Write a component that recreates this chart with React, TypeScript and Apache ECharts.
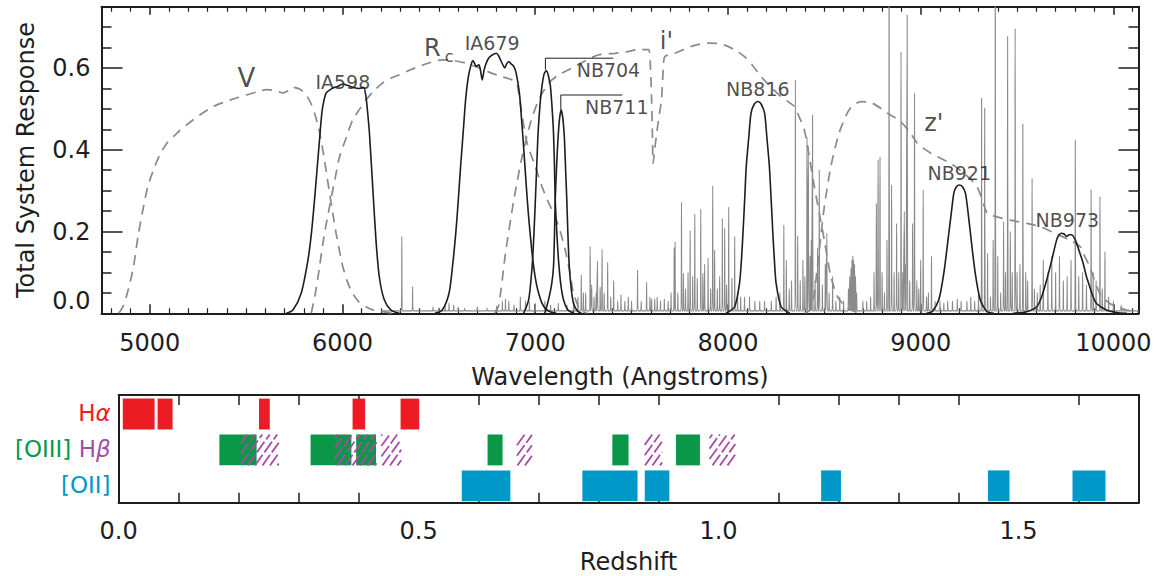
import React, { useEffect, useRef } from 'react';
import * as echarts from 'echarts';

// ---------- Top panel: filter response curves (wavelength Å, response) ----------
const V_CURVE = [[4840,0],[4865,0.02],[4890,0.06],[4916,0.114],[4940,0.19],[4968,0.261],[4990,0.31],[5020,0.351],[5050,0.385],[5089,0.416],[5140,0.44],[5192,0.461],[5260,0.485],[5330,0.506],[5420,0.522],[5502,0.534],[5560,0.542],[5606,0.547],[5650,0.545],[5692,0.539],[5720,0.545],[5743,0.553],[5780,0.548],[5812,0.534],[5835,0.515],[5855,0.49],[5878,0.45],[5898,0.4],[5915,0.35],[5933,0.294],[5950,0.245],[5967,0.196],[5985,0.152],[6002,0.114],[6025,0.078],[6053,0.049],[6085,0.028],[6122,0.016],[6160,0.008],[6208,0.004],[6260,0]];
const RC_CURVE = [[5838,0],[5860,0.05],[5881,0.114],[5905,0.19],[5933,0.261],[5960,0.325],[5985,0.383],[6020,0.43],[6053,0.473],[6090,0.5],[6122,0.522],[6165,0.545],[6208,0.563],[6250,0.575],[6295,0.583],[6350,0.595],[6398,0.604],[6460,0.614],[6518,0.62],[6580,0.618],[6639,0.612],[6700,0.602],[6760,0.59],[6820,0.58],[6880,0.571],[6906,0.56],[6930,0.49],[6958,0.416],[7000,0.36],[7035,0.31],[7070,0.27],[7104,0.236],[7130,0.2],[7156,0.155],[7180,0.1],[7199,0.049],[7234,0.008],[7270,0]];
const I_CURVE = [[6790,0],[6811,0.02],[6846,0.147],[6889,0.277],[6932,0.383],[6975,0.465],[7018,0.522],[7070,0.563],[7121,0.583],[7190,0.6],[7260,0.618],[7328,0.632],[7414,0.636],[7480,0.64],[7535,0.645],[7587,0.645],[7598,0.6],[7604,0.522],[7608,0.44],[7612,0.367],[7620,0.4],[7630,0.44],[7642,0.48],[7655,0.522],[7665,0.6],[7673,0.628],[7725,0.636],[7810,0.653],[7897,0.661],[7950,0.66],[8000,0.653],[8040,0.643],[8086,0.628],[8130,0.605],[8172,0.579],[8220,0.555],[8276,0.53],[8345,0.506],[8361,0.49],[8396,0.449],[8422,0.383],[8448,0.31],[8474,0.245],[8500,0.179],[8534,0.09],[8568,0.041],[8611,0.016],[8660,0.004],[8700,0]];
const Z_CURVE = [[8400,0],[8430,0.01],[8448,0.049],[8474,0.155],[8500,0.261],[8534,0.359],[8577,0.441],[8629,0.498],[8689,0.518],[8749,0.514],[8827,0.49],[8896,0.469],[8947,0.441],[8982,0.416],[9051,0.392],[9154,0.367],[9223,0.343],[9292,0.31],[9344,0.245],[9361,0.241],[9395,0.236],[9464,0.228],[9550,0.22],[9619,0.212],[9700,0.195],[9780,0.178],[9827,0.163],[9843,0.147],[9877,0.114],[9929,0.049],[9981,0.024],[10067,0.008],[10130,0.004]];
const IA598 = [[5709,0],[5743,0.008],[5786,0.049],[5821,0.13],[5840,0.2],[5855,0.277],[5868,0.35],[5881,0.424],[5890,0.475],[5898,0.506],[5916,0.539],[5950,0.551],[5975,0.555],[6002,0.561],[6030,0.557],[6053,0.553],[6088,0.55],[6110,0.553],[6122,0.53],[6131,0.49],[6140,0.441],[6157,0.31],[6174,0.179],[6191,0.09],[6217,0.033],[6252,0.008],[6295,0]];
const IA679 = [[6480,0],[6518,0.008],[6553,0.049],[6570,0.11],[6588,0.196],[6600,0.27],[6613,0.359],[6626,0.44],[6639,0.522],[6652,0.575],[6665,0.604],[6677,0.618],[6685,0.612],[6694,0.604],[6708,0.608],[6716,0.595],[6725,0.571],[6735,0.595],[6746,0.612],[6760,0.625],[6777,0.632],[6800,0.636],[6810,0.63],[6820,0.62],[6832,0.608],[6842,0.6],[6852,0.61],[6863,0.616],[6875,0.61],[6889,0.604],[6901,0.588],[6918,0.539],[6930,0.47],[6941,0.4],[6954,0.31],[6966,0.236],[6980,0.165],[6992,0.114],[7005,0.075],[7018,0.049],[7035,0.025],[7053,0.012],[7080,0.003],[7110,0]];
const NB704 = [[6940,0],[6966,0.033],[6984,0.114],[6993,0.19],[7001,0.277],[7008,0.36],[7015,0.441],[7025,0.51],[7035,0.555],[7046,0.585],[7058,0.594],[7069,0.58],[7079,0.555],[7088,0.5],[7095,0.441],[7100,0.36],[7104,0.277],[7112,0.2],[7121,0.13],[7133,0.07],[7147,0.033],[7170,0.008],[7200,0]];
const NB711 = [[7050,0],[7069,0.033],[7085,0.07],[7095,0.114],[7100,0.19],[7104,0.277],[7111,0.36],[7118,0.424],[7126,0.475],[7135,0.498],[7144,0.475],[7152,0.424],[7158,0.35],[7164,0.277],[7170,0.19],[7177,0.114],[7187,0.06],[7199,0.024],[7220,0.005],[7240,0]];
const NB816 = [[7990,0],[8035,0.016],[8060,0.073],[8070,0.13],[8078,0.196],[8087,0.28],[8095,0.359],[8108,0.43],[8120,0.49],[8137,0.512],[8155,0.518],[8172,0.512],[8190,0.49],[8202,0.43],[8215,0.359],[8224,0.28],[8233,0.196],[8241,0.13],[8250,0.073],[8276,0.016],[8320,0]];
const NB921 = [[9030,0],[9059,0.004],[9094,0.033],[9120,0.098],[9146,0.196],[9160,0.25],[9172,0.294],[9186,0.31],[9201,0.314],[9216,0.31],[9232,0.294],[9245,0.25],[9258,0.196],[9283,0.098],[9309,0.033],[9344,0.004],[9380,0]];
const NB973 = [[9480,0],[9550,0.004],[9602,0.016],[9628,0.041],[9654,0.082],[9680,0.13],[9705,0.179],[9718,0.192],[9731,0.196],[9744,0.194],[9757,0.188],[9770,0.192],[9783,0.192],[9796,0.185],[9809,0.171],[9826,0.147],[9843,0.122],[9860,0.09],[9877,0.065],[9895,0.04],[9912,0.024],[9964,0.008],[10015,0.002],[10070,0]];

// Sky emission lines (wavelength Å, peak response)
const SKY_BASE = 0.006;
const SKY_LINE_WAVE = [6308,6364,6470,6500,6533,6553,6577,6600,6634,6700,6750,6800,6830,6846,6863,6890,6923,6950,6970,7000,7050,7080,7120,7165,7200,7222,7239,7250,7262,7285,7293,7305,7316,7323,7337,7347,7358,7376,7392,7407,7428,7445,7465,7483,7500,7531,7550,7578,7595,7604,7620,7633,7650,7670,7690,7705,7721,7726,7740,7759,7769,7780,7793,7804,7817,7828,7841,7859,7870,7879,7897,7910,7921,7931,7945,7957,7971,7983,7993,8004,8021,8035,8050,8066,8086,8112,8140,8165,8190,8225,8250,8270,8290,8303,8318,8330,8350,8362,8375,8389,8399,8410,8417,8426,8432,8439,8452,8465,8474,8490,8505,8513,8525,8543,8560,8580,8600,8625,8632,8638,8643,8648,8652,8657,8662,8668,8700,8720,8740,8758,8770,8779,8789,8800,8812,8825,8836,8849,8862,8875,8886,8898,8907,8915,8922,8930,8943,8958,8968,8980,8990,9000,9013,9030,9040,9056,9075,9100,9120,9140,9165,9190,9210,9240,9260,9280,9300,9316,9332,9347,9362,9376,9387,9400,9415,9430,9440,9451,9465,9475,9490,9500,9515,9530,9545,9555,9578,9590,9605,9620,9636,9660,9680,9700,9720,9740,9760,9780,9802,9820,9840,9860,9884,9895,9910,9930,9942,9956,9975,10000,10040];
const SKY_LINE_PEAK = [0.188,0.065,0.015,0.012,0.018,0.025,0.02,0.015,0.012,0.015,0.012,0.018,0.03,0.035,0.03,0.02,0.04,0.03,0.028,0.025,0.03,0.02,0.025,0.02,0.03,0.04,0.094,0.05,0.05,0.163,0.07,0.04,0.05,0.128,0.064,0.157,0.05,0.125,0.04,0.08,0.03,0.045,0.03,0.04,0.03,0.106,0.03,0.076,0.04,0.035,0.035,0.04,0.03,0.035,0.03,0.05,0.161,0.175,0.05,0.272,0.098,0.06,0.1,0.202,0.09,0.243,0.086,0.255,0.098,0.12,0.135,0.06,0.312,0.155,0.06,0.09,0.232,0.208,0.07,0.26,0.086,0.188,0.05,0.04,0.04,0.04,0.03,0.03,0.03,0.03,0.04,0.05,0.216,0.13,0.06,0.08,0.571,0.19,0.08,0.13,0.09,0.432,0.408,0.14,0.18,0.485,0.08,0.16,0.351,0.07,0.12,0.196,0.05,0.09,0.03,0.04,0.03,0.06,0.09,0.11,0.13,0.14,0.13,0.12,0.09,0.05,0.03,0.03,0.04,0.1,0.269,0.375,0.383,0.1,0.05,0.18,0.9,0.314,0.1,0.22,0.1,0.64,0.1,0.25,0.12,0.73,0.08,0.22,0.539,0.08,0.06,0.13,0.302,0.04,0.05,0.14,0.03,0.03,0.025,0.03,0.03,0.035,0.03,0.03,0.04,0.03,0.05,0.526,0.502,0.147,0.04,0.18,0.9,0.14,0.05,0.224,0.1,0.677,0.2,0.1,0.697,0.1,0.12,0.463,0.1,0.08,0.33,0.06,0.05,0.07,0.13,0.1,0.14,0.1,0.14,0.08,0.09,0.13,0.423,0.09,0.1,0.07,0.303,0.1,0.08,0.285,0.06,0.151,0.04,0.03,0.02];

// Filter label annotations
const LABEL_TEXT = ['V', 'IA598', 'R', 'c', 'IA679', 'NB704', 'NB711', "i'", 'NB816', "z'", 'NB921', 'NB973'];
const LABEL_X = [5502, 6002, 6467, 6553, 6777, 7380, 7423, 7681, 8155, 9068, 9200, 9761];
const LABEL_Y = [0.575, 0.567, 0.649, 0.627, 0.662, 0.594, 0.504, 0.665, 0.548, 0.465, 0.343, 0.228];
const LABEL_SIZE = [26, 19, 24, 16, 19, 19, 19, 24, 19, 24, 19, 19];
const LEADER_NB704 = [[7053, 0.596], [7053, 0.624], [7405, 0.624]];
const LEADER_NB711 = [[7133, 0.498], [7133, 0.534], [7452, 0.534]];

// ---------- Bottom panel: redshift coverage ----------
const ROWS = ['Hα', '[OIII] Hβ', '[OII]'];
const HA_RANGES = [[0.007, 0.06], [0.065, 0.09], [0.234, 0.252], [0.39, 0.411], [0.47, 0.501]];
const OIII_RANGES = [[0.168, 0.23], [0.32, 0.388], [0.396, 0.429], [0.615, 0.64], [0.823, 0.85], [0.929, 0.969]];
const HB_RANGES = [[0.204, 0.267], [0.36, 0.43], [0.438, 0.471], [0.664, 0.689], [0.877, 0.906], [0.985, 1.028]];
const OII_RANGES = [[0.572, 0.653], [0.773, 0.865], [0.877, 0.918], [1.171, 1.204], [1.449, 1.485], [1.59, 1.645]];

const RED = '#ed1c24';
const GREEN = '#0a9747';
const PURPLE = '#a84ca6';
const BLUE = '#0097c9';
const INK = '#1e1e1e';
const GRAY = '#8a8a8a';
const FONT = 'DejaVu Sans';

function buildSky() {
  const d: number[][] = [[6200, SKY_BASE]];
  SKY_LINE_WAVE.forEach((w, i) => {
    d.push([w - 2.5, SKY_BASE], [w, SKY_LINE_PEAK[i]], [w + 2.5, SKY_BASE]);
  });
  d.push([10130, SKY_BASE]);
  return d;
}

function barGeom(api: any) {
  const a = api.coord([api.value(0), api.value(2)]);
  const b = api.coord([api.value(1), api.value(2)]);
  const band = api.size([0, 1])[1];
  const top = a[1] - band / 2 + band * 0.1;
  const h = band * 0.86;
  return { x0: a[0], x1: b[0], top, h };
}

function solidRender(color: string) {
  return (_p: any, api: any) => {
    const g = barGeom(api);
    return { type: 'rect', shape: { x: g.x0, y: g.top, width: g.x1 - g.x0, height: g.h }, style: { fill: color } };
  };
}

function hatchRender(_p: any, api: any) {
  const g = barGeom(api);
  const k = 0.72;
  const sp = 7.5;
  const H = g.h;
  const yBot = g.top + H;
  const children: any[] = [];
  const cStart = Math.floor((g.x0 - k * H) / sp) * sp;
  for (let c = cStart; c <= g.x1; c += sp) {
    const t0 = Math.max(0, (g.x0 - c) / k);
    const t1 = Math.min(H, (g.x1 - c) / k);
    if (t1 - t0 < 0.8) continue;
    children.push({
      type: 'line',
      shape: { x1: c + k * t0, y1: yBot - t0, x2: c + k * t1, y2: yBot - t1 },
      style: { stroke: PURPLE, lineWidth: 1.8, lineDash: [13, 3] },
    });
  }
  return { type: 'group', children };
}

const rangeData = (r: number[][], row: number) => r.map((v) => [v[0], v[1], row]);

function lineSeries(data: number[][], dashed: boolean, color: string, width: number, z: number) {
  return {
    type: 'line', xAxisIndex: 0, yAxisIndex: 0, data, showSymbol: false, symbol: 'none', smooth: 0.25,
    lineStyle: { color, width, type: dashed ? [10, 7] : 'solid' }, z, silent: true,
  };
}

export default function App() {
  const ref = useRef<HTMLDivElement>(null);
  useEffect(() => {
    document.body.style.margin = '0';
    const chart = echarts.init(ref.current as HTMLDivElement, undefined, { renderer: 'svg' });
    const axisLine = { show: true, onZero: false, lineStyle: { color: INK, width: 2 } };
    const tickStyle = { color: INK, width: 1.5 };
    const labelStyle = { fontFamily: FONT, fontSize: 24, color: INK };
    const option: any = {
      animation: false,
      backgroundColor: '#ffffff',
      textStyle: { fontFamily: FONT },
      grid: [
        { left: 101.5, top: 6.7, width: 1037, height: 306.6 },
        { left: 118.6, top: 395, width: 1019.9, height: 107.7 },
      ],
      xAxis: [
        {
          type: 'value', gridIndex: 0, min: 4750, max: 10130, minInterval: 1000, maxInterval: 1000,
          axisLine, axisTick: { inside: true, length: 9, lineStyle: tickStyle },
          minorTick: { show: true, splitNumber: 10, length: 5, lineStyle: { color: INK, width: 1.2 } },
          axisLabel: { ...labelStyle, margin: 18, showMinLabel: false, showMaxLabel: false, formatter: (v: number) => String(v) },
          splitLine: { show: false },
          name: 'Wavelength (Angstroms)', nameLocation: 'middle', nameGap: 52, nameTextStyle: labelStyle,
        },
        {
          type: 'value', gridIndex: 0, position: 'top', min: 4750, max: 10130, minInterval: 1000, maxInterval: 1000,
          axisLine, axisTick: { inside: true, length: 8, lineStyle: tickStyle },
          minorTick: { show: true, splitNumber: 10, length: 5, lineStyle: { color: INK, width: 1.2 } },
          axisLabel: { show: false }, splitLine: { show: false },
        },
        {
          type: 'value', gridIndex: 1, min: 0, max: 1.7, interval: 0.5,
          axisLine, axisTick: { inside: true, length: 21, lineStyle: tickStyle },
          minorTick: { show: true, splitNumber: 5, length: 10, lineStyle: tickStyle },
          axisLabel: { ...labelStyle, margin: 16, showMaxLabel: false, formatter: (v: number) => v.toFixed(1) },
          splitLine: { show: false },
          name: 'Redshift', nameLocation: 'middle', nameGap: 47, nameTextStyle: labelStyle,
        },
        {
          type: 'value', gridIndex: 1, position: 'top', min: 0, max: 1.7, interval: 0.5,
          axisLine, axisTick: { inside: true, length: 18, lineStyle: tickStyle },
          minorTick: { show: true, splitNumber: 5, length: 10, lineStyle: tickStyle },
          axisLabel: { show: false }, splitLine: { show: false },
        },
      ],
      yAxis: [
        {
          type: 'value', gridIndex: 0, min: 0, max: 0.75, interval: 0.2,
          axisLine, axisTick: { inside: true, length: 21, lineStyle: tickStyle },
          minorTick: { show: true, splitNumber: 4, length: 10, lineStyle: tickStyle },
          axisLabel: { ...labelStyle, margin: 11, showMaxLabel: false, formatter: (v: number) => (v === 0 ? '0.0\n ' : v.toFixed(1)) },
          splitLine: { show: false },
          name: 'Total System Response', nameLocation: 'middle', nameGap: 64, nameTextStyle: labelStyle,
        },
        {
          type: 'value', gridIndex: 0, position: 'right', min: 0, max: 0.75, interval: 0.2,
          axisLine, axisTick: { inside: true, length: 20, lineStyle: tickStyle },
          minorTick: { show: true, splitNumber: 4, length: 10, lineStyle: tickStyle },
          axisLabel: { show: false }, splitLine: { show: false },
        },
        {
          type: 'category', gridIndex: 1, data: ROWS, inverse: true,
          axisLine, axisTick: { inside: true, length: 21, lineStyle: tickStyle },
          axisLabel: {
            margin: 8, fontFamily: FONT, fontSize: 23,
            formatter: (v: string) => (v === ROWS[0] ? '{ha|H}{hai|α}' : v === ROWS[1] ? '{o3|[OIII]}{sp| }{hb|H}{hbi|β}' : '{o2|[OII]}'),
            rich: {
              ha: { color: RED, fontSize: 23, fontFamily: FONT },
              hai: { color: RED, fontSize: 23, fontFamily: FONT, fontStyle: 'italic' },
              o3: { color: GREEN, fontSize: 23, fontFamily: FONT },
              sp: { fontSize: 23, fontFamily: FONT },
              hb: { color: PURPLE, fontSize: 23, fontFamily: FONT },
              hbi: { color: PURPLE, fontSize: 23, fontFamily: FONT, fontStyle: 'italic' },
              o2: { color: BLUE, fontSize: 23, fontFamily: FONT },
            },
          },
          splitLine: { show: false },
        },
        {
          type: 'category', gridIndex: 1, data: ROWS, inverse: true, position: 'right',
          axisLine, axisTick: { inside: true, length: 21, lineStyle: tickStyle },
          axisLabel: { show: false }, splitLine: { show: false },
        },
      ],
      series: [
        lineSeries(buildSky(), false, GRAY, 1.1, 1),
        lineSeries(V_CURVE, true, GRAY, 1.7, 2),
        lineSeries(RC_CURVE, true, GRAY, 1.7, 2),
        lineSeries(I_CURVE, true, GRAY, 1.7, 2),
        lineSeries(Z_CURVE, true, GRAY, 1.7, 2),
        lineSeries(IA598, false, INK, 1.6, 3),
        lineSeries(IA679, false, INK, 1.6, 3),
        lineSeries(NB704, false, INK, 1.6, 3),
        lineSeries(NB711, false, INK, 1.6, 3),
        lineSeries(NB816, false, INK, 1.6, 3),
        lineSeries(NB921, false, INK, 1.6, 3),
        lineSeries(NB973, false, INK, 1.6, 3),
        { ...lineSeries(LEADER_NB704, false, INK, 1, 3), smooth: false },
        { ...lineSeries(LEADER_NB711, false, INK, 1, 3), smooth: false },
        {
          type: 'scatter', xAxisIndex: 0, yAxisIndex: 0, symbolSize: 0, z: 5, silent: true,
          data: LABEL_TEXT.map((t, i) => ({
            name: t, value: [LABEL_X[i], LABEL_Y[i]],
            label: { fontSize: LABEL_SIZE[i] },
          })),
          label: { show: true, position: 'inside', formatter: '{b}', color: INK, fontFamily: FONT },
        },
        {
          type: 'custom', xAxisIndex: 2, yAxisIndex: 2, renderItem: solidRender(RED),
          data: rangeData(HA_RANGES, 0), encode: { x: [0, 1], y: 2 }, silent: true, z: 2,
        },
        {
          type: 'custom', xAxisIndex: 2, yAxisIndex: 2, renderItem: solidRender(GREEN),
          data: rangeData(OIII_RANGES, 1), encode: { x: [0, 1], y: 2 }, silent: true, z: 2,
        },
        {
          type: 'custom', xAxisIndex: 2, yAxisIndex: 2, renderItem: hatchRender,
          data: rangeData(HB_RANGES, 1), encode: { x: [0, 1], y: 2 }, silent: true, z: 3,
        },
        {
          type: 'custom', xAxisIndex: 2, yAxisIndex: 2, renderItem: solidRender(BLUE),
          data: rangeData(OII_RANGES, 2), encode: { x: [0, 1], y: 2 }, silent: true, z: 2,
        },
      ],
    };
    chart.setOption(option);
    return () => chart.dispose();
  }, []);
  return <div ref={ref} style={{ width: 1165, height: 576 }} />;
}
